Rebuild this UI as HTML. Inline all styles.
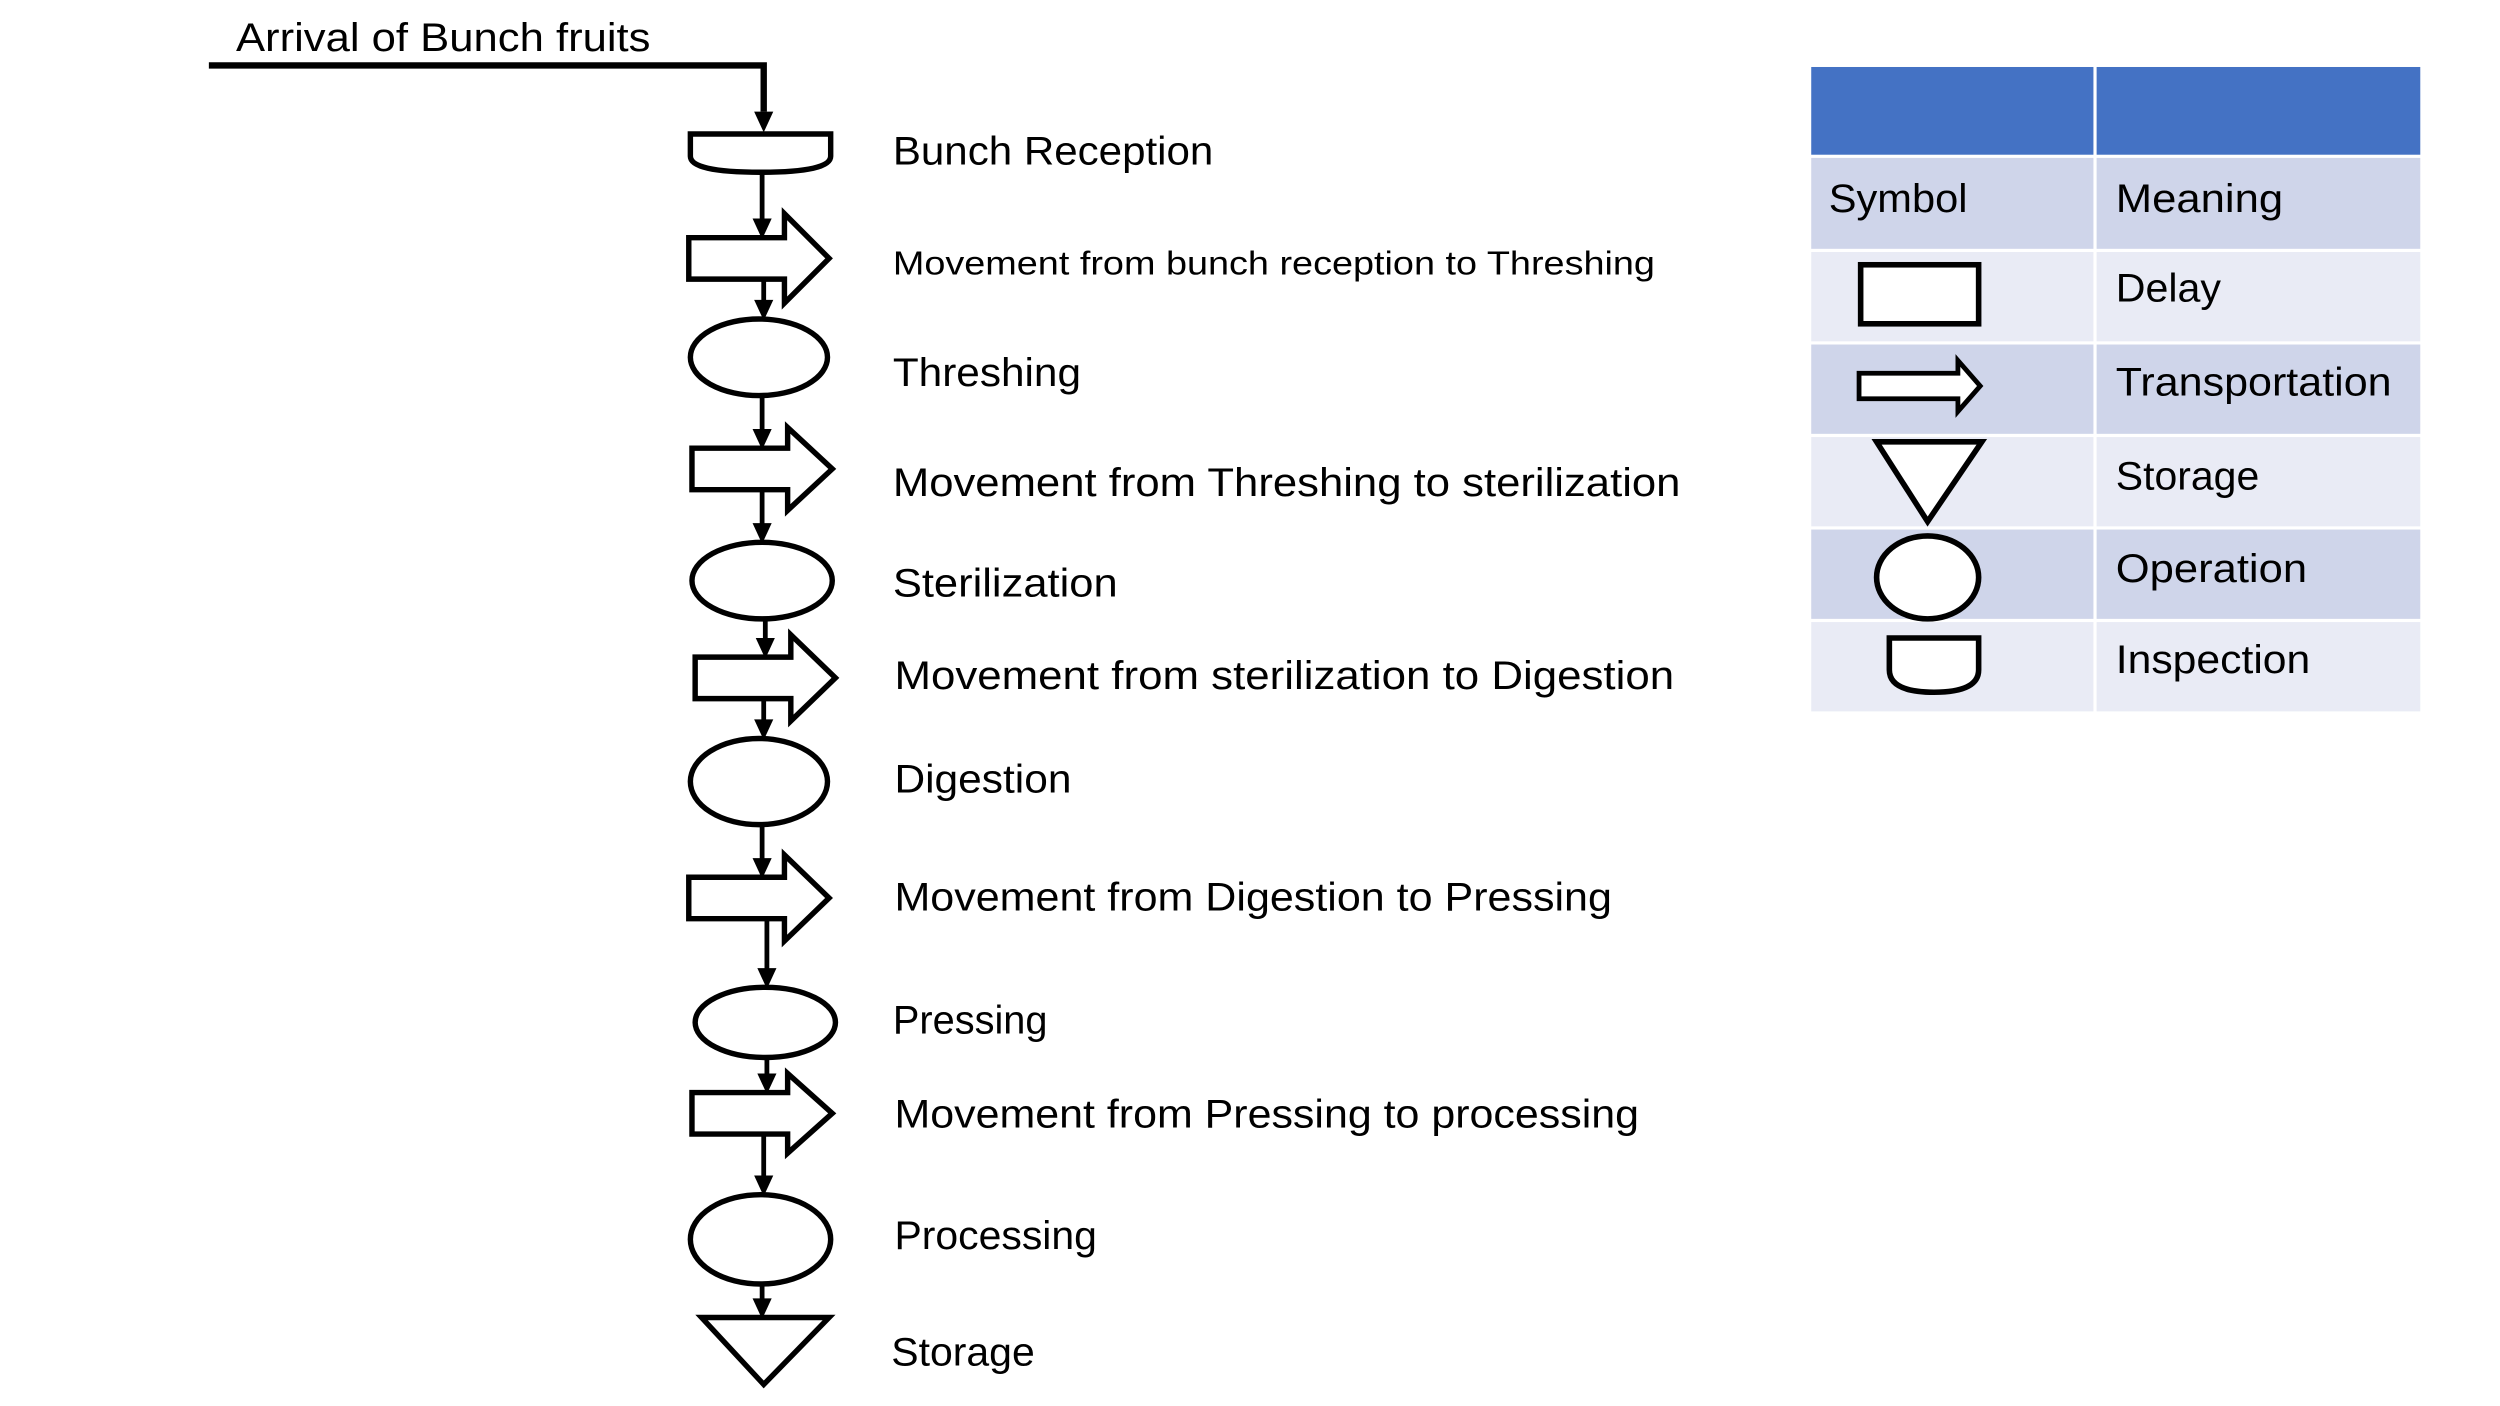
<!DOCTYPE html>
<html><head><meta charset="utf-8"><style>
html,body{margin:0;padding:0;background:#fff;}
svg{display:block;}
text{font-family:"Liberation Sans",sans-serif;fill:#000;}
</style></head><body>
<svg width="2500" height="1406" viewBox="0 0 1568 881.5" preserveAspectRatio="none" xmlns="http://www.w3.org/2000/svg">
<g fill="none" stroke="#000" stroke-width="4">
<polyline points="131,41 479,41 479,70"/>
</g>
<g fill="#000">
<path d="M473,70 L485,70 L479,83 Z"/>
</g>
<g fill="#fff" stroke="#000" stroke-width="3.4" stroke-linejoin="miter">
<path d="M433,84 L521,84 L521,98 Q521,108 477,108 Q433,108 433,98 Z"/>
<path d="M432,149 L492,149 L492,134 L520,162 L492,190 L492,175 L432,175 Z"/>
<path d="M434,281 L494,281 L494,268 L522,294 L494,320 L494,307 L434,307 Z"/>
<path d="M436,412 L496,412 L496,398 L524,425 L496,452 L496,438 L436,438 Z"/>
<path d="M432,550 L492,550 L492,536 L520,563 L492,590 L492,576 L432,576 Z"/>
<path d="M434,685 L494,685 L494,673 L522,698 L494,723 L494,711 L434,711 Z"/>
<ellipse cx="476" cy="224" rx="43" ry="24"/>
<ellipse cx="478" cy="364" rx="44" ry="24"/>
<ellipse cx="476" cy="490" rx="43" ry="27"/>
<ellipse cx="480" cy="641" rx="44" ry="22"/>
<ellipse cx="477" cy="777" rx="44" ry="28"/>
<path d="M440,826 L520,826 L479,868 Z"/>
</g>
<g stroke="#000" stroke-width="3">
<line x1="478" y1="108" x2="478" y2="138"/>
<line x1="479" y1="175" x2="479" y2="189"/>
<line x1="478" y1="248" x2="478" y2="270"/>
<line x1="478" y1="307" x2="478" y2="329"/>
<line x1="480" y1="388" x2="480" y2="401"/>
<line x1="479" y1="438" x2="479" y2="452"/>
<line x1="478" y1="517" x2="478" y2="539"/>
<line x1="481" y1="576" x2="481" y2="608"/>
<line x1="481" y1="663" x2="481" y2="674"/>
<line x1="479" y1="711" x2="479" y2="738"/>
<line x1="478" y1="805" x2="478" y2="815"/>
</g>
<g fill="#000">
<path d="M472,137 L484,137 L478,150 Z"/>
<path d="M473,188 L485,188 L479,201 Z"/>
<path d="M472,269 L484,269 L478,282 Z"/>
<path d="M472,328 L484,328 L478,341 Z"/>
<path d="M474,400 L486,400 L480,413 Z"/>
<path d="M473,451 L485,451 L479,464 Z"/>
<path d="M472,538 L484,538 L478,551 Z"/>
<path d="M475,607 L487,607 L481,620 Z"/>
<path d="M475,673 L487,673 L481,686 Z"/>
<path d="M473,737 L485,737 L479,750 Z"/>
<path d="M472,814 L484,814 L478,827 Z"/>
</g>
<g font-size="25">
<text x="148" y="32" textLength="260" lengthAdjust="spacingAndGlyphs">Arrival of Bunch fruits</text>
<text x="560" y="103" textLength="201" lengthAdjust="spacingAndGlyphs">Bunch Reception</text>
<text x="560" y="172" font-size="21" textLength="478" lengthAdjust="spacingAndGlyphs">Movement from bunch reception to Threshing</text>
<text x="560" y="242" textLength="118" lengthAdjust="spacingAndGlyphs">Threshing</text>
<text x="560" y="311" textLength="494" lengthAdjust="spacingAndGlyphs">Movement from Threshing to sterilization</text>
<text x="560" y="374" textLength="141" lengthAdjust="spacingAndGlyphs">Sterilization</text>
<text x="561" y="432" textLength="489" lengthAdjust="spacingAndGlyphs">Movement from sterilization to Digestion</text>
<text x="561" y="497" textLength="111" lengthAdjust="spacingAndGlyphs">Digestion</text>
<text x="561" y="571" textLength="450" lengthAdjust="spacingAndGlyphs">Movement from Digestion to Pressing</text>
<text x="560" y="648" textLength="97" lengthAdjust="spacingAndGlyphs">Pressing</text>
<text x="561" y="707" textLength="467" lengthAdjust="spacingAndGlyphs">Movement from Pressing to processing</text>
<text x="561" y="783" textLength="127" lengthAdjust="spacingAndGlyphs">Processing</text>
<text x="559" y="856" textLength="90" lengthAdjust="spacingAndGlyphs">Storage</text>
</g>
<g>
<rect x="1136" y="42" width="177" height="55" fill="#4472C4"/>
<rect x="1315" y="42" width="203" height="55" fill="#4472C4"/>
<rect x="1136" y="99" width="177" height="57" fill="#CFD5EA"/>
<rect x="1315" y="99" width="203" height="57" fill="#CFD5EA"/>
<rect x="1136" y="158" width="177" height="56" fill="#E9EBF5"/>
<rect x="1315" y="158" width="203" height="56" fill="#E9EBF5"/>
<rect x="1136" y="216" width="177" height="56" fill="#CFD5EA"/>
<rect x="1315" y="216" width="203" height="56" fill="#CFD5EA"/>
<rect x="1136" y="274" width="177" height="56" fill="#E9EBF5"/>
<rect x="1315" y="274" width="203" height="56" fill="#E9EBF5"/>
<rect x="1136" y="332" width="177" height="56" fill="#CFD5EA"/>
<rect x="1315" y="332" width="203" height="56" fill="#CFD5EA"/>
<rect x="1136" y="390" width="177" height="56" fill="#E9EBF5"/>
<rect x="1315" y="390" width="203" height="56" fill="#E9EBF5"/>
</g>
<g fill="#fff" stroke="#000" stroke-width="3.5">
<rect x="1167" y="166" width="74" height="37"/>
<path d="M1166,234 L1228,234 L1228,226 L1242,242 L1228,258 L1228,250 L1166,250 Z" stroke-width="3"/>
<path d="M1177,277 L1243,277 L1209,327 Z"/>
<ellipse cx="1209" cy="362" rx="32" ry="26"/>
<path d="M1185,400 L1241,400 L1241,420 Q1241,434 1213,434 Q1185,434 1185,420 Z"/>
</g>
<g font-size="25">
<text x="1147" y="133" textLength="87" lengthAdjust="spacingAndGlyphs">Symbol</text>
<text x="1327" y="133" textLength="105" lengthAdjust="spacingAndGlyphs">Meaning</text>
<text x="1327" y="189" textLength="66" lengthAdjust="spacingAndGlyphs">Delay</text>
<text x="1327" y="248" textLength="173" lengthAdjust="spacingAndGlyphs">Transportation</text>
<text x="1327" y="307" textLength="90" lengthAdjust="spacingAndGlyphs">Storage</text>
<text x="1327" y="365" textLength="120" lengthAdjust="spacingAndGlyphs">Operation</text>
<text x="1327" y="422" textLength="122" lengthAdjust="spacingAndGlyphs">Inspection</text>
</g>
</svg>
</body></html>
